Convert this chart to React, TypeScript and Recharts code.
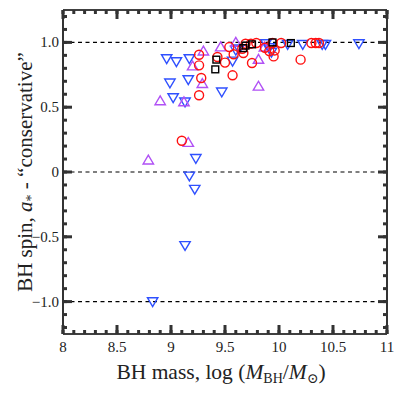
import React from 'react';
import { ScatterChart, Scatter, XAxis, YAxis, ReferenceLine, Label } from 'recharts';

// log(M_BH) and spin values per sample
const blueX = [8.83, 8.96, 8.99, 9.02, 9.05, 9.13, 9.13, 9.16, 9.17, 9.17, 9.22, 9.23, 9.47, 9.57, 9.6, 9.63, 9.88, 9.91, 9.93, 10.08, 10.22, 10.4, 10.43, 10.74];
const blueY = [-1.0, 0.875, 0.687, 0.574, 0.852, 0.541, -0.567, 0.713, 0.875, -0.031, -0.133, 0.105, 0.618, 0.856, 0.94, 0.95, 0.99, 0.96, 0.925, 0.985, 0.985, 0.985, 0.985, 0.99];

const purpleX = [8.79, 8.9, 9.12, 9.16, 9.2, 9.29, 9.3, 9.46, 9.6, 9.81, 9.81, 9.865];
const purpleY = [0.092, 0.549, 0.541, 0.228, 0.818, 0.682, 0.933, 0.965, 1.0, 0.869, 0.662, 0.964];

const redX = [9.1, 9.26, 9.28, 9.26, 9.26, 9.43, 9.5, 9.57, 9.58, 9.54, 9.66, 9.67, 9.69, 9.74, 9.75, 9.79, 9.87, 9.91, 9.95, 9.96, 9.94, 10.02, 10.2, 10.3, 10.34, 10.37];
const redY = [0.241, 0.592, 0.725, 0.823, 0.905, 0.887, 0.844, 0.746, 0.908, 0.964, 0.951, 0.918, 0.99, 0.99, 0.841, 0.995, 0.959, 0.933, 0.892, 0.938, 0.995, 0.995, 0.867, 0.995, 0.995, 0.995];

const blackX = [9.41, 9.42, 9.67, 9.69, 9.75, 9.94, 10.11];
const blackY = [0.792, 0.867, 0.956, 0.975, 0.985, 1.0, 0.995];

const xMajor = [8, 8.5, 9, 9.5, 10, 10.5, 11];
const yMajor = [-1, -0.5, 0, 0.5, 1];
const yLabels = ['\u22121.0', '\u22120.5', '0', '0.5', '1.0'];
const dashedY = [1, 0, -1];

const xTicks = Array.from({ length: 31 }, (_, i) => +(8 + i * 0.1).toFixed(1));
const yTicks = Array.from({ length: 25 }, (_, i) => +(-1.2 + i * 0.1).toFixed(1));

const zip = (xs: number[], ys: number[]) => xs.map((x, i) => ({ x, y: ys[i] }));

const BLUE = '#2f50ff';
const PURPLE = '#b050f5';
const RED = '#ff1010';
const FONT = '"Liberation Serif", "DejaVu Serif", serif';
const TICK_COLOR = '#333';
const TICK_W = 3;
const MAJOR_LEN = 9;

const isMajor = (v: number, list: number[]) => list.some((m) => Math.abs(m - v) < 1e-6);

// built-in tick lines are the short (minor) ones; majors get a longer stroke here
const BottomTick = (p: any) => {
  const v = p.payload.value;
  if (!isMajor(v, xMajor)) return <g />;
  return (
    <g>
      <line x1={p.x} x2={p.x} y1={p.y} y2={p.y - MAJOR_LEN} stroke={TICK_COLOR} strokeWidth={TICK_W} />
      <text x={p.x} y={p.y + 18} textAnchor="middle" fontFamily={FONT} fontSize={15} fill="#222">
        {String(v)}
      </text>
    </g>
  );
};

const TopTick = (p: any) => {
  if (!isMajor(p.payload.value, xMajor)) return <g />;
  return <line x1={p.x} x2={p.x} y1={p.y} y2={p.y + MAJOR_LEN} stroke={TICK_COLOR} strokeWidth={TICK_W} />;
};

const LeftTick = (p: any) => {
  const v = p.payload.value;
  const idx = yMajor.findIndex((m) => Math.abs(m - v) < 1e-6);
  if (idx < 0) return <g />;
  return (
    <g>
      <line x1={p.x} x2={p.x + MAJOR_LEN} y1={p.y} y2={p.y} stroke={TICK_COLOR} strokeWidth={TICK_W} />
      <text x={p.x - 4} y={p.y + 5} textAnchor="end" fontFamily={FONT} fontSize={15} fill="#222">
        {yLabels[idx]}
      </text>
    </g>
  );
};

const RightTick = (p: any) => {
  if (!isMajor(p.payload.value, yMajor)) return <g />;
  return <line x1={p.x} x2={p.x - MAJOR_LEN} y1={p.y} y2={p.y} stroke={TICK_COLOR} strokeWidth={TICK_W} />;
};

const DownTri = (p: any) => {
  const { cx, cy } = p;
  const s = 5.2;
  return (
    <polygon
      points={`${cx - s},${cy - s * 0.75} ${cx + s},${cy - s * 0.75} ${cx},${cy + s * 0.95}`}
      fill="none"
      stroke={BLUE}
      strokeWidth={1.4}
    />
  );
};

const UpTri = (p: any) => {
  const { cx, cy } = p;
  const s = 5.2;
  return (
    <polygon
      points={`${cx - s},${cy + s * 0.75} ${cx + s},${cy + s * 0.75} ${cx},${cy - s * 0.95}`}
      fill="none"
      stroke={PURPLE}
      strokeWidth={1.4}
    />
  );
};

const Circ = (p: any) => <circle cx={p.cx} cy={p.cy} r={4.5} fill="none" stroke={RED} strokeWidth={1.4} />;

const Sq = (p: any) => (
  <rect x={p.cx - 3.4} y={p.cy - 3.4} width={6.8} height={6.8} fill="none" stroke="#000" strokeWidth={1.4} />
);

const XTitle = (p: any) => {
  const vb = p.viewBox;
  return (
    <text x={vb.x + vb.width / 2 - 4} y={vb.y + 45} textAnchor="middle" fontFamily={FONT} fontSize={21.5} fill="#222">
      BH mass, log (<tspan fontStyle="italic">M</tspan>
      <tspan fontSize={14} dy={4}>BH</tspan>
      <tspan dy={-4}>/</tspan>
      <tspan fontStyle="italic">M</tspan>
      <tspan fontSize={14} dy={4}>{'\u2299'}</tspan>
      <tspan dy={-4}>)</tspan>
    </text>
  );
};

const YTitle = (p: any) => {
  const vb = p.viewBox;
  const cx = 32;
  const cy = vb.y + vb.height / 2;
  return (
    <text
      x={cx}
      y={cy}
      transform={`rotate(-90, ${cx}, ${cy})`}
      textAnchor="middle"
      fontFamily={FONT}
      fontSize={21}
      fill="#222"
    >
      BH spin, <tspan fontStyle="italic">a</tspan>
      <tspan fontSize={14} dy={4}>*</tspan>
      <tspan dy={-4}> - {'\u201c'}conservative{'\u201d'}</tspan>
    </text>
  );
};

const axisLine = { stroke: '#000', strokeWidth: 1.6 };
const tickLine = { stroke: TICK_COLOR, strokeWidth: TICK_W };

export default function App() {
  return (
    <div style={{ position: 'fixed', left: 0, top: 0, width: 399, height: 398, background: '#fff' }}>
      <ScatterChart width={399} height={398} margin={{ top: 9, right: 11, left: 0, bottom: 0 }}>
        <XAxis
          type="number"
          dataKey="x"
          domain={[8, 11]}
          ticks={xTicks}
          interval={0}
          height={64}
          tickSize={-4}
          tickMargin={4}
          tickLine={tickLine}
          tick={<BottomTick />}
          axisLine={axisLine}
        >
          <Label content={<XTitle />} />
        </XAxis>
        <XAxis
          xAxisId="top"
          orientation="top"
          type="number"
          dataKey="x"
          domain={[8, 11]}
          ticks={xTicks}
          interval={0}
          height={1}
          tickSize={-4}
          tickMargin={4}
          tickLine={tickLine}
          tick={<TopTick />}
          axisLine={axisLine}
        />
        <YAxis
          type="number"
          dataKey="y"
          domain={[-1.25, 1.25]}
          ticks={yTicks}
          interval={0}
          width={63}
          tickSize={-4}
          tickMargin={4}
          tickLine={tickLine}
          tick={<LeftTick />}
          axisLine={axisLine}
        >
          <Label content={<YTitle />} />
        </YAxis>
        <YAxis
          yAxisId="right"
          orientation="right"
          type="number"
          dataKey="y"
          domain={[-1.25, 1.25]}
          ticks={yTicks}
          interval={0}
          width={1}
          tickSize={-4}
          tickMargin={4}
          tickLine={tickLine}
          tick={<RightTick />}
          axisLine={axisLine}
        />
        {dashedY.map((v) => (
          <ReferenceLine key={v} y={v} stroke="#000" strokeWidth={1.2} strokeDasharray="4 3.5" />
        ))}
        <Scatter data={zip(blueX, blueY)} shape={DownTri} isAnimationActive={false} />
        <Scatter data={zip(purpleX, purpleY)} shape={UpTri} isAnimationActive={false} />
        <Scatter data={zip(redX, redY)} shape={Circ} isAnimationActive={false} />
        <Scatter
          data={zip(blackX, blackY)}
          shape={Sq}
          xAxisId="top"
          yAxisId="right"
          isAnimationActive={false}
        />
      </ScatterChart>
    </div>
  );
}
